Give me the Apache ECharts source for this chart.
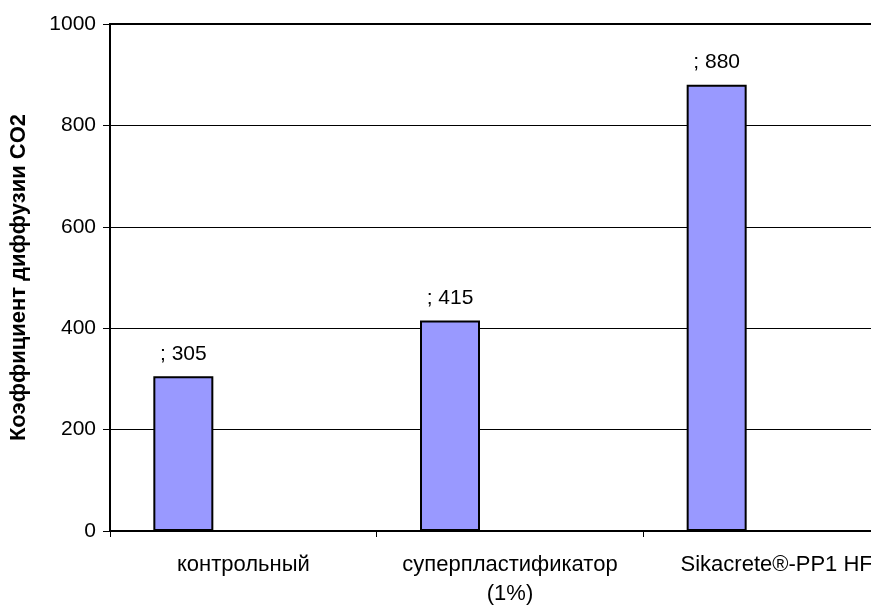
<!DOCTYPE html>
<html><head><meta charset="utf-8">
<script src="https://cdn.jsdelivr.net/npm/echarts@6/dist/echarts.min.js"></script>
<style>html,body{margin:0;padding:0;background:#fff;overflow:hidden;width:871px;height:608px}#c{width:910px;height:608px}</style>
</head><body><div id="c"></div>
<script>
const categories = ['контрольный', 'суперпластификатор\n(1%)', 'Sikacrete®-PP1 HF'];
const values = [305, 415, 880];
const emptySeriesA = [];
const emptySeriesB = [];
const yTicks = [0, 200, 400, 600, 800, 1000];
const yName = 'Коэффициент диффузии CO2';

const chart = echarts.init(document.getElementById('c'), null, {renderer: 'canvas'});
const font = 'Liberation Sans, Arial, sans-serif';
chart.setOption({
  animation: false,
  backgroundColor: '#fff',
  grid: {left: 110, top: 24, right: 0, bottom: 73, show: true, borderColor: '#000', borderWidth: 2, containLabel: false},
  xAxis: {
    type: 'category', data: categories,
    axisLine: {lineStyle: {color: '#000', width: 2}},
    axisTick: {show: true, length: 6, alignWithLabel: false, lineStyle: {color: '#000', width: 1}},
    axisLabel: {color: '#000', fontSize: 22, fontFamily: font, margin: 19, lineHeight: 29, interval: 0}
  },
  yAxis: {
    type: 'value', min: yTicks[0], max: yTicks[yTicks.length - 1], interval: 200,
    name: yName, nameLocation: 'middle', nameGap: 80,
    nameTextStyle: {color: '#000', fontSize: 22, fontWeight: 'bold', fontFamily: font},
    axisLine: {show: true, lineStyle: {color: '#000', width: 2}},
    axisTick: {show: true, length: 7, lineStyle: {color: '#000', width: 1}},
    axisLabel: {color: '#000', fontSize: 21, fontFamily: font, margin: 14, formatter: v => String(v)},
    splitLine: {show: true, lineStyle: {color: '#000', width: 1}}
  },
  series: [
    {type: 'bar', data: values, barGap: '0%', barWidth: 60,
     itemStyle: {color: '#9999FF', borderColor: '#000', borderWidth: 2},
     label: {show: true, position: 'top', distance: 12, color: '#000', fontSize: 21, fontFamily: font,
             formatter: p => '; ' + p.value}},
    {type: 'bar', data: emptySeriesA, barWidth: 60, itemStyle: {color: '#993366'}},
    {type: 'bar', data: emptySeriesB, barWidth: 60, itemStyle: {color: '#FFFFCC'}}
  ]
});
</script></body></html>
